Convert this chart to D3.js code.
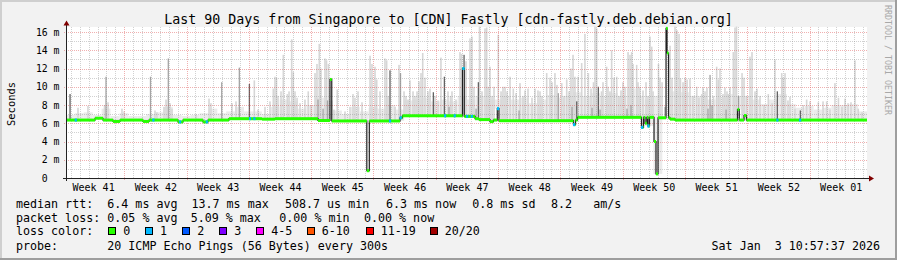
<!DOCTYPE html>
<html>
<head>
<meta charset="utf-8">
<script src="https://cdn.jsdelivr.net/npm/d3@7"></script>
<style>
  body { margin: 0; background: #f2f2f2; }
  text { font-family: "DejaVu Sans Mono", monospace; fill: #000; }
</style>
</head>
<body>
<div id="my_dataviz"></div>
<script>
// time span of the graph
var start = new Date(2025, 9, 5, 10, 57, 37),
    end = new Date(2026, 0, 3, 10, 57, 37);

// median rtt (ms), stepped: each value holds from that day (offset from start) on
var medDays = [0, 3.26, 4.16, 5.28, 6.07, 8.65, 9.33, 12.58, 13.15, 15.39,
  15.96, 18.31, 22.02, 23.48, 28.31, 29.66, 29.86, 33.80, 34.08, 37.53,
  37.81, 44.55, 44.75, 45.96, 46.40, 47.64, 48.03, 48.46, 48.65, 57.02,
  57.25, 57.47, 64.66, 64.89, 65.06, 65.26, 65.39, 65.56, 66.07, 66.29,
  66.52, 67.42, 67.53, 67.70, 67.87, 68.43, 75.45, 75.65, 76.18, 76.46];
var medMs = [6.35, 6.55, 6.35, 6.2, 6.35, 6.2, 6.35, 6.15, 6.35, 6.15,
  6.35, 6.5, 6.45, 6.5, 6.3, 10.8, 6.25, 0.8, 6.25, 6.6,
  6.82, 12.0, 6.75, 6.5, 6.4, 6.18, 6.35, 7.6, 6.28, 5.85,
  6.35, 6.65, 5.55, 6.65, 6.0, 6.65, 5.7, 6.65, 4.0, 0.45,
  6.6, 16.4, 13.7, 6.6, 6.45, 6.35, 7.5, 6.35, 6.85, 6.35];

// samples with packet loss (index into lossColors)
var lossDays = [1.09, 9.81, 12.81, 15.81, 20.67, 21.16, 36.40, 37.6, 42.58, 43.67,
  44.65, 45.06, 45.58, 48.54, 57.08, 64.72, 65.42, 79.92, 82.47];
var lossBucket = [1, 1, 1, 1, 1, 1, 1, 1, 1, 1, 1, 1, 1, 1, 1, 1, 1, 1, 1];

// dense light smoke, upper edge for each day (ms)
var hazeMs = [6.9, 7.1, 7.2, 6.9, 7.6, 6.8, 7.1, 6.8, 6.8, 7.0,
  7.2, 7.8, 6.9, 6.8, 6.9, 7.1, 7.6, 7.1, 7.3, 7.8,
  7.3, 7.3, 7.0, 7.8, 8.6, 8.4, 7.6, 8.0, 8.8, 8.5,
  7.4, 7.0, 7.8, 7.3, 7.7, 7.6, 8.0, 7.5, 8.5, 8.6,
  8.8, 8.4, 8.6, 8.4, 9.0, 8.6, 9.0, 8.6, 8.6, 9.0,
  8.6, 8.8, 8.2, 8.6, 9.1, 8.8, 9.0, 9.4, 9.0, 9.3,
  9.0, 9.3, 9.0, 9.8, 9.0, 8.6, 9.0, 9.3, 9.5, 9.4,
  9.0, 9.0, 8.6, 8.8, 9.2, 9.0, 9.0, 8.6, 8.1, 8.6,
  9.2, 8.1, 7.7, 7.9, 7.5, 7.7, 8.0, 8.0, 8.1, 7.3];

// single light smoke spikes [day, top ms]
var lightSpikes = [[1.35, 7.7], [2.47, 7.9], [4.33, 8.0], [4.72, 8.3], [6.29, 7.6], [6.52, 7.3],
  [10.0, 7.4], [10.22, 7.2], [11.01, 7.8], [11.24, 8.6], [11.69, 8.2], [11.91, 7.6],
  [14.61, 7.0], [16.07, 8.7], [16.29, 8.2], [18.65, 8.2], [19.10, 8.4], [21.16, 10.7],
  [21.57, 7.5], [22.36, 7.8], [22.92, 8.4], [23.29, 9.8], [23.48, 11.1], [23.65, 11.0],
  [23.82, 9.0], [24.16, 9.5], [24.42, 13.5], [24.87, 9.2], [25.06, 9.5], [25.36, 15.2],
  [25.54, 11.6], [25.73, 9.5], [25.96, 8.8], [26.29, 8.2], [26.85, 8.6], [27.22, 9.5],
  [27.53, 8.0], [27.98, 11.5], [28.20, 12.5], [28.46, 14.7], [28.65, 12.0], [29.10, 13.1],
  [29.27, 12.9], [29.49, 12.5], [30.11, 7.5], [30.48, 9.7], [31.35, 7.3], [31.91, 7.8],
  [32.25, 9.2], [32.47, 8.8], [32.81, 9.5], [33.26, 8.3], [34.16, 13.4], [34.38, 12.5],
  [34.72, 12.2], [34.91, 10.8], [35.28, 9.5], [35.84, 13.1], [36.03, 12.9], [36.18, 9.0],
  [36.97, 7.8], [37.42, 12.4], [37.98, 9.5], [38.20, 9.0], [38.43, 8.6], [38.65, 10.7],
  [38.99, 9.5], [39.21, 9.0], [39.44, 9.5], [39.66, 10.6], [39.89, 11.5], [40.08, 13.7],
  [40.34, 11.0], [40.67, 9.5], [40.90, 9.8], [41.46, 9.0], [41.80, 8.5], [42.13, 13.2],
  [42.92, 9.5], [43.20, 9.0], [43.37, 9.5], [43.82, 8.6], [44.27, 13.8], [44.44, 13.6],
  [44.94, 12.8], [45.39, 15.3], [45.62, 15.5], [45.84, 10.0], [46.46, 16.6], [46.74, 9.5],
  [47.08, 16.4], [47.27, 16.5], [47.42, 10.0], [47.64, 12.2], [47.87, 9.0], [48.09, 10.0],
  [48.57, 15.7], [48.88, 9.5], [49.10, 10.0], [49.33, 10.0], [49.55, 9.5], [49.89, 11.1],
  [50.26, 9.8], [50.56, 9.3], [51.01, 10.4], [51.35, 9.0], [51.57, 9.6], [51.91, 9.8],
  [52.36, 8.8], [52.70, 9.8], [53.03, 9.6], [53.26, 9.5], [53.48, 9.0], [54.01, 11.5],
  [54.38, 11.0], [54.61, 10.5], [54.94, 11.5], [55.17, 10.2], [55.70, 10.4], [55.96, 9.0],
  [56.26, 10.8], [56.52, 9.5], [56.74, 12.0], [56.97, 13.5], [57.19, 11.1], [57.53, 11.1],
  [57.94, 12.6], [58.31, 15.8], [58.69, 11.5], [58.99, 9.8], [59.27, 10.5], [59.44, 16.6],
  [59.63, 16.4], [60.17, 9.5], [60.34, 10.5], [60.75, 12.2], [60.90, 10.0], [61.12, 9.5],
  [61.31, 14.0], [61.57, 11.0], [61.88, 11.1], [62.13, 9.0], [62.36, 9.6], [62.58, 10.5],
  [62.81, 10.0], [63.15, 13.8], [63.37, 13.5], [63.56, 13.8], [63.71, 12.5], [64.12, 12.4],
  [64.27, 10.5], [64.49, 10.0], [64.83, 9.6], [65.17, 10.5], [65.39, 9.0], [65.62, 15.5],
  [65.81, 14.4], [65.96, 9.5], [66.57, 12.5], [66.74, 11.0], [66.97, 10.5], [67.87, 14.5],
  [68.09, 11.0], [68.43, 16.6], [68.65, 16.2], [68.88, 15.8], [69.04, 10.9], [69.33, 10.5],
  [69.55, 11.0], [69.78, 10.8], [70.11, 10.9], [70.45, 9.0], [70.87, 10.0], [71.12, 8.8],
  [71.43, 9.2], [71.57, 9.9], [71.80, 9.5], [72.02, 9.9], [72.75, 9.0], [73.11, 12.2],
  [73.29, 10.8], [73.48, 12.0], [73.82, 9.2], [74.04, 9.9], [74.27, 9.5], [74.44, 9.2],
  [74.61, 9.9], [74.98, 13.8], [75.17, 16.5], [75.34, 16.6], [75.96, 11.5], [76.18, 11.0],
  [76.46, 9.0], [76.85, 13.3], [77.08, 13.8], [77.42, 9.5], [77.64, 9.8], [77.98, 9.0],
  [78.43, 8.0], [78.91, 9.2], [79.33, 8.2], [79.66, 13.0], [80.42, 11.5], [80.56, 11.0],
  [80.79, 11.5], [81.12, 8.5], [81.35, 8.9], [81.91, 7.6], [82.84, 8.0], [83.22, 8.6],
  [83.60, 8.4], [84.53, 8.3], [85.06, 8.4], [85.47, 8.4], [85.84, 7.5], [86.40, 10.4],
  [86.79, 8.8], [87.19, 7.8], [87.53, 8.7], [87.87, 8.2], [88.20, 8.3], [88.65, 12.9],
  [89.02, 7.6], [89.44, 7.2]];

// darker smoke spikes [day, top ms, density 1 = mid, 2 = dark]
var darkSpikes = [[0.45, 9.2, 2], [4.49, 11.1, 1], [9.49, 11.1, 1], [11.49, 13.1, 1],
  [17.49, 10.5, 1], [19.47, 12.1, 1], [20.60, 10.3, 2], [28.31, 8.6, 1], [28.88, 7.6, 1],
  [29.38, 8.5, 1], [36.40, 11.8, 2], [37.58, 11.5, 1], [41.27, 9.4, 2], [42.51, 11.1, 2],
  [43.03, 7.8, 1], [44.72, 13.5, 2], [46.07, 7.6, 1], [46.33, 10.5, 2], [50.90, 7.4, 1],
  [55.31, 9.3, 1], [56.85, 7.8, 1], [57.38, 8.4, 2], [59.10, 7.7, 1], [59.81, 10.0, 2],
  [60.0, 7.5, 1], [63.03, 7.6, 1], [63.48, 8.0, 1], [67.30, 7.8, 1], [72.13, 7.6, 1],
  [72.36, 11.3, 1], [72.58, 8.0, 1], [74.16, 7.5, 1], [75.56, 9.0, 1], [79.92, 9.5, 2],
  [82.51, 7.4, 2]];

var yTicks = [0, 2, 4, 6, 8, 10, 12, 14, 16];
var lossLabels = ["0", "1", "2", "3", "4-5", "6-10", "11-19", "20/20"];
var lossColors = ["#26ff00", "#00b8ff", "#0059ff", "#7e00ff", "#ff00ff", "#ff5500", "#ff0000", "#a10000"];
var rttStats = ["6.4 ms avg", "13.7 ms max", "508.7 us min", "6.3 ms now", "0.8 ms sd", "8.2", "am/s"];
var lossStats = ["0.05 % avg", "5.09 % max", "0.00 % min", "0.00 % now"];

var W = 897, H = 260;
var plot = {left: 66, right: 867, top: 27, bottom: 178};

var svg = d3.select("#my_dataviz")
  .append("svg")
    .attr("width", W)
    .attr("height", H);

// background and 3d frame
svg.append("rect").attr("width", W).attr("height", H).attr("fill", "#f2f2f2");
svg.append("rect").attr("x", 0).attr("y", 0).attr("width", W).attr("height", 2).attr("fill", "#cfcfcf");
svg.append("rect").attr("x", 0).attr("y", 0).attr("width", 2).attr("height", H).attr("fill", "#cfcfcf");
svg.append("rect").attr("x", 0).attr("y", H - 2).attr("width", W).attr("height", 2).attr("fill", "#9e9e9e");
svg.append("rect").attr("x", W - 2).attr("y", 0).attr("width", 2).attr("height", H).attr("fill", "#9e9e9e");

var x = d3.scaleTime().domain([start, end]).range([plot.left, plot.right]);
var y = d3.scaleLinear().domain([0, 16.55]).range([plot.bottom, plot.top]);

function dayDate(d) { return new Date(start.getTime() + d * 864e5); }
function xd(d) { return x(dayDate(d)); }
function medianAt(d) {
  var i = d3.bisectRight(medDays, d) - 1;
  return medMs[Math.max(0, i)];
}

// canvas
svg.append("rect")
  .attr("x", plot.left).attr("y", plot.top)
  .attr("width", plot.right - plot.left).attr("height", plot.bottom - plot.top)
  .attr("fill", "#ffffff");

// smoke
var smoke = svg.append("g");
smoke.selectAll(".haze")
  .data(hazeMs)
  .enter()
  .append("rect")
    .attr("x", function(d, i) { return xd(i); })
    .attr("width", function(d, i) { return xd(i + 1) - xd(i); })
    .attr("y", function(d) { return y(d); })
    .attr("height", function(d, i) { return Math.max(0, y(medianAt(i + 0.5)) - y(d)); })
    .attr("fill", "#ebebeb");

smoke.selectAll(".light")
  .data(lightSpikes)
  .enter()
  .append("rect")
    .attr("x", function(d) { return xd(d[0]) - 0.8; })
    .attr("width", 1.6)
    .attr("y", function(d) { return y(d[1]); })
    .attr("height", function(d) { return Math.max(0, y(medianAt(d[0])) - y(d[1])); })
    .attr("fill", "#d6d6d6");

smoke.selectAll(".dark")
  .data(darkSpikes)
  .enter()
  .append("rect")
    .attr("x", function(d) { return xd(d[0]) - 0.6; })
    .attr("width", 1.3)
    .attr("y", function(d) { return y(d[1]); })
    .attr("height", function(d) { return Math.max(0, y(medianAt(d[0])) - y(d[1])); })
    .attr("fill", function(d) { return d[2] == 2 ? "#626262" : "#a4a4a4"; });

// grid, drawn over the smoke like rrdtool does
var grid = svg.append("g").attr("stroke-width", 1).attr("stroke-dasharray", "1,1");
var days = d3.timeDay.range(d3.timeDay.ceil(start), end);
grid.selectAll(".vminor")
  .data(days.filter(function(d) { return d.getDay() != 0; }))
  .enter()
  .append("line")
    .attr("x1", function(d) { return Math.round(x(d)) + 0.5; })
    .attr("x2", function(d) { return Math.round(x(d)) + 0.5; })
    .attr("y1", plot.top).attr("y2", plot.bottom)
    .attr("stroke", "rgba(140,140,140,0.4)");
grid.selectAll(".hminor")
  .data(d3.range(1, 17, 2))
  .enter()
  .append("line")
    .attr("x1", plot.left).attr("x2", plot.right)
    .attr("y1", function(d) { return Math.round(y(d)) + 0.5; })
    .attr("y2", function(d) { return Math.round(y(d)) + 0.5; })
    .attr("stroke", "rgba(140,140,140,0.4)");
grid.selectAll(".vmajor")
  .data(d3.timeSunday.range(start, end))
  .enter()
  .append("line")
    .attr("x1", function(d) { return Math.round(x(d)) + 0.5; })
    .attr("x2", function(d) { return Math.round(x(d)) + 0.5; })
    .attr("y1", plot.top).attr("y2", plot.bottom + 2)
    .attr("stroke", "rgba(222,79,79,0.45)");
grid.selectAll(".hmajor")
  .data(yTicks.slice(1))
  .enter()
  .append("line")
    .attr("x1", plot.left - 2).attr("x2", plot.right)
    .attr("y1", function(d) { return Math.round(y(d)) + 0.5; })
    .attr("y2", function(d) { return Math.round(y(d)) + 0.5; })
    .attr("stroke", "rgba(222,79,79,0.45)");

// median line (black) and loss coloured blobs
var medPts = medDays.map(function(d, i) { return [d, medMs[i]]; });
medPts.push([90, medMs[medMs.length - 1]]);
svg.append("path")
  .datum(medPts)
  .attr("fill", "none")
  .attr("stroke", "#202020")
  .attr("stroke-width", 1.2)
  .attr("d", d3.line()
    .curve(d3.curveStepAfter)
    .x(function(d) { return xd(d[0]); })
    .y(function(d) { return y(d[1]); }));

svg.selectAll(".band")
  .data(medPts.slice(0, -1))
  .enter()
  .append("rect")
    .attr("x", function(d) { return xd(d[0]); })
    .attr("width", function(d, i) { return Math.max(1.6, xd(medPts[i + 1][0]) - xd(d[0])); })
    .attr("y", function(d) { return y(d[1]) - 1.5; })
    .attr("height", 3)
    .attr("fill", lossColors[0]);

svg.selectAll(".loss")
  .data(lossDays)
  .enter()
  .append("rect")
    .attr("x", function(d) { return xd(d) - 1; })
    .attr("width", 2.2)
    .attr("y", function(d) { return y(medianAt(d)) - 1.5; })
    .attr("height", 3)
    .attr("fill", function(d, i) { return lossColors[lossBucket[i]]; });

// axes
svg.append("line")
  .attr("x1", plot.left - 3).attr("x2", plot.right + 3)
  .attr("y1", plot.bottom + 0.5).attr("y2", plot.bottom + 0.5)
  .attr("stroke", "#222");
svg.append("line")
  .attr("x1", plot.left + 0.5).attr("x2", plot.left + 0.5)
  .attr("y1", plot.bottom + 3).attr("y2", plot.top - 3)
  .attr("stroke", "#222");
svg.append("path")
  .attr("d", "M" + (plot.right + 2) + "," + (plot.bottom - 2.5) + "L" + (plot.right + 7) + "," + (plot.bottom + 0.5) + "L" + (plot.right + 2) + "," + (plot.bottom + 3.5) + "Z")
  .attr("fill", "#800000");
svg.append("path")
  .attr("d", "M" + (plot.left - 2.5) + "," + (plot.top - 1.5) + "L" + (plot.left + 0.5) + "," + (plot.top - 6.5) + "L" + (plot.left + 3.5) + "," + (plot.top - 1.5) + "Z")
  .attr("fill", "#800000");

// week labels in the middle of each week
var weekMid = d3.timeSunday.range(d3.timeSunday.floor(start), end)
  .map(function(d) { return d3.timeHour.offset(d, 84); })
  .filter(function(d) { return d > start && d < end; });
var xAxis = svg.append("g")
  .attr("transform", "translate(0," + plot.bottom + ")")
  .call(d3.axisBottom(x).tickValues(weekMid).tickSize(0).tickPadding(6).tickFormat(d3.timeFormat("Week %V")));
xAxis.select(".domain").remove();
xAxis.selectAll("text").style("font-family", "DejaVu Sans Mono").style("font-size", "10px").attr("fill", "#000");

var yAxis = svg.append("g")
  .attr("transform", "translate(" + plot.left + ",0)")
  .call(d3.axisLeft(y).tickValues(yTicks).tickSize(0).tickPadding(6.5)
    .tickFormat(function(d) { return d == 0 ? "0\u00a0\u00a0" : d + " m"; }));
yAxis.select(".domain").remove();
yAxis.selectAll("text").style("font-family", "DejaVu Sans Mono").style("font-size", "9.8px").attr("fill", "#000");

// titles
svg.append("text")
  .attr("x", W / 2).attr("y", 24)
  .attr("text-anchor", "middle")
  .style("font-size", "13.3px")
  .text("Last 90 Days from Singapore to [CDN] Fastly [cdn-fastly.deb.debian.org]");
svg.append("text")
  .attr("transform", "translate(15," + 104 + ") rotate(-90)")
  .attr("text-anchor", "middle")
  .style("font-size", "10.4px")
  .text("Seconds");
svg.append("text")
  .attr("transform", "translate(885,5) rotate(90)")
  .style("font-size", "8.3px")
  .style("fill", "#a8a8a8")
  .text("RRDTOOL / TOBI OETIKER");

// legend
var leg = svg.append("g").style("font-size", "11.66px");
var rttX = [107.3, 191.5, 285, 386, 472.3, 551, 593.3];
var lossX = [107.3, 190.7, 279.3, 364];
leg.append("text").attr("x", 16).attr("y", 208).text("median rtt:");
rttStats.forEach(function(s, i) { leg.append("text").attr("x", rttX[i]).attr("y", 208).text(s); });
leg.append("text").attr("x", 16).attr("y", 221.5).text("packet loss:");
lossStats.forEach(function(s, i) { leg.append("text").attr("x", lossX[i]).attr("y", 221.5).text(s); });
leg.append("text").attr("x", 16).attr("y", 235).text("loss color:");
var boxX = [108.3, 145, 182.3, 219.3, 256.3, 306.7, 365.7, 429.7];
lossLabels.forEach(function(s, i) {
  leg.append("rect")
    .attr("x", Math.round(boxX[i]) + 0.5).attr("y", 227.5)
    .attr("width", 7).attr("height", 7)
    .attr("fill", lossColors[i]).attr("stroke", "#000");
  leg.append("text").attr("x", boxX[i] + 15).attr("y", 235).text(s);
});
leg.append("text").attr("x", 16).attr("y", 249.5).text("probe:");
leg.append("text").attr("x", 107.3).attr("y", 249.5).text("20 ICMP Echo Pings (56 Bytes) every 300s");
leg.append("text").attr("x", 880).attr("y", 249.5).attr("text-anchor", "end").text("Sat Jan \u00a03 10:57:37 2026");
</script>
</body>
</html>
